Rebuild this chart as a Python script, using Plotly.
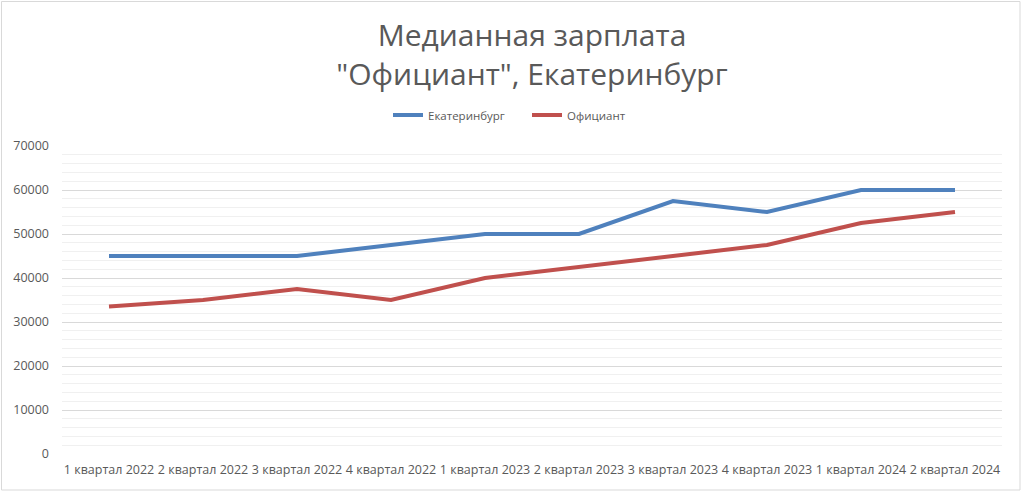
import plotly.graph_objects as go

categories = ["1 квартал 2022", "2 квартал 2022", "3 квартал 2022", "4 квартал 2022",
              "1 квартал 2023", "2 квартал 2023", "3 квартал 2023", "4 квартал 2023",
              "1 квартал 2024", "2 квартал 2024"]
ekb = [45000, 45000, 45000, 47500, 50000, 50000, 57500, 55000, 60000, 60000]
waiter = [33500, 35000, 37500, 35000, 40000, 42500, 45000, 47500, 52500, 55000]

W, H = 1024, 495
L, R, T, B = 62, 22, 146, 41
pw, ph = W - L - R, H - T - B

def px(x):
    return (x - L) / pw

def py(y):
    return (H - B - y) / ph

fig = go.Figure()
fig.add_trace(go.Scatter(x=categories, y=ekb, mode="lines", name="Екатеринбург",
                         line=dict(color="#4F81BD", width=4)))
fig.add_trace(go.Scatter(x=categories, y=waiter, mode="lines", name="Официант",
                         line=dict(color="#C0504D", width=4)))

fig.update_layout(
    width=W, height=H,
    margin=dict(l=L, r=R, t=T, b=B),
    paper_bgcolor="white", plot_bgcolor="white",
    font=dict(family="Open Sans", color="#595959", size=12),
    title=dict(text="Медианная зарплата<br>\"Официант\", Екатеринбург",
               x=0.5, xref="paper", y=1 - 46 / H, yanchor="middle",
               font=dict(size=30, color="#595959", family="Open Sans")),
    legend=dict(orientation="h", x=px(388), xanchor="left", y=py(115), yanchor="middle",
                font=dict(size=11.5, color="#595959"), entrywidth=94,
                entrywidthmode="pixels"),
    showlegend=True,
    shapes=[dict(type="rect", xref="paper", yref="paper",
                 x0=px(1.5), x1=px(1020), y0=py(490), y1=py(1.5),
                 line=dict(color="#d9d9d9", width=1), layer="below")],
)
fig.update_xaxes(type="category", range=[-0.5, 9.5], showgrid=False, showline=False,
                 ticks="", tickfont=dict(size=12.5, color="#595959"), fixedrange=True,
                 ticklabelstandoff=6)
fig.update_yaxes(range=[0, 70000], dtick=10000, showgrid=True, gridcolor="#d9d9d9",
                 gridwidth=1, zeroline=False, showline=False, ticks="",
                 tickfont=dict(size=12.5, color="#595959"), tickformat="d",
                 minor=dict(dtick=2000, showgrid=True, gridcolor="#f0f0f0", gridwidth=1),
                 fixedrange=True, ticklabelstandoff=12)

fig.write_html("out.html")
